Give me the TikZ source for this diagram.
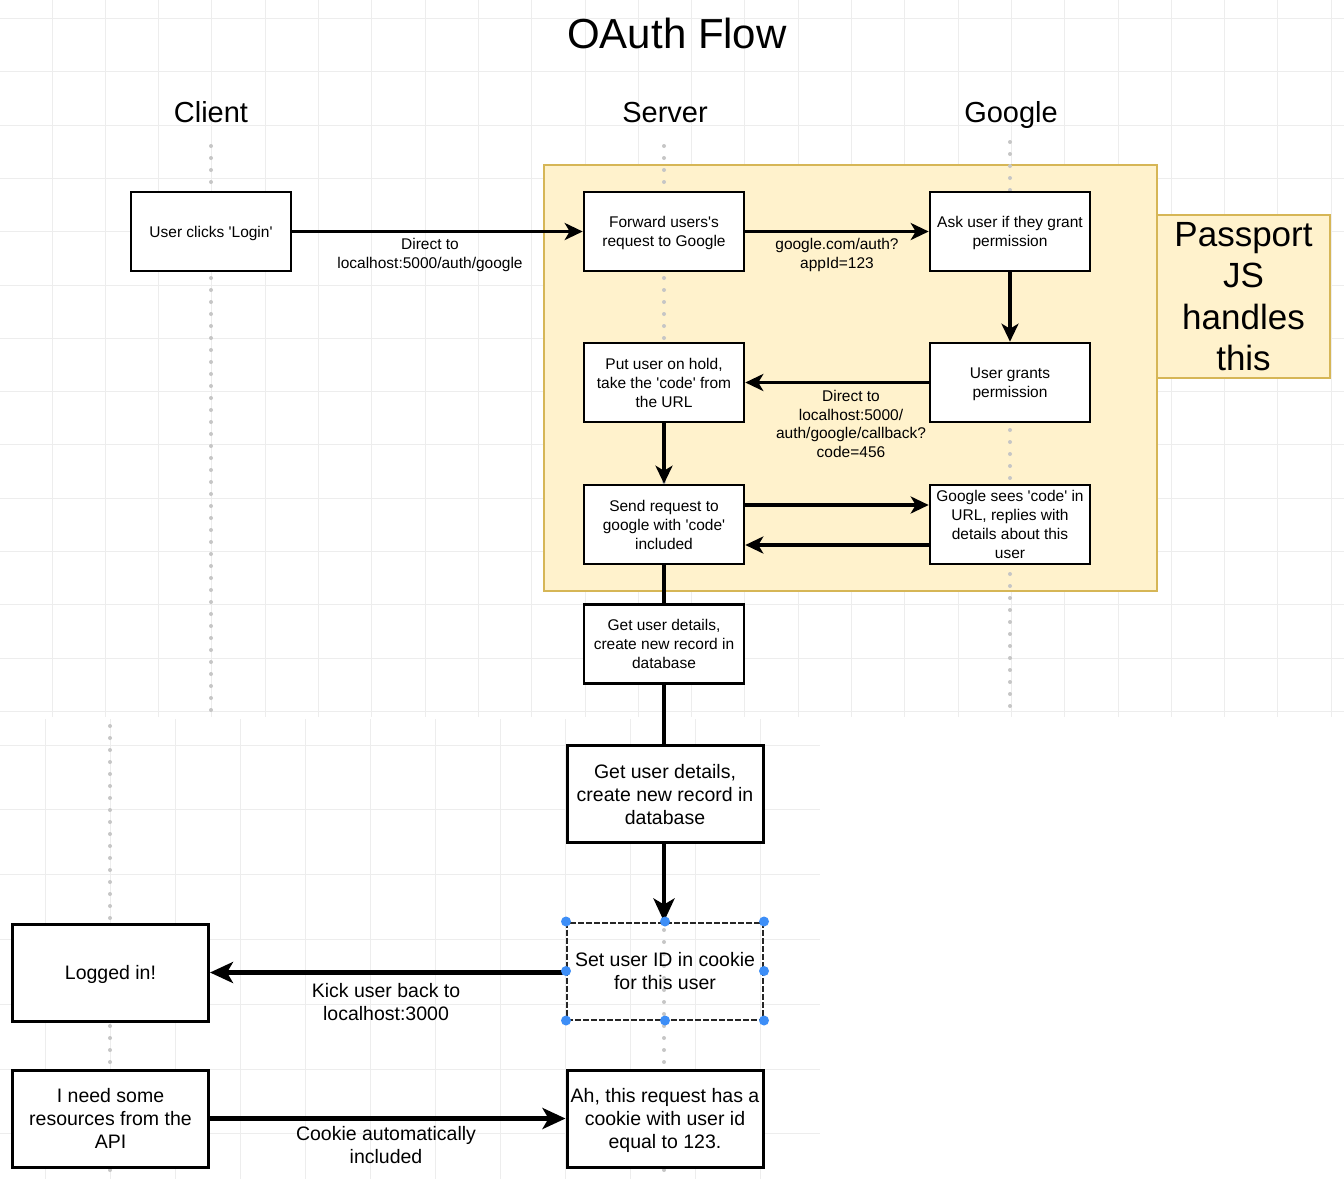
\documentclass[tikz,border=0pt]{standalone}
\usepackage{fontspec}
\setmainfont{Liberation Sans}
\usetikzlibrary{arrows.meta}
\definecolor{ylfill}{HTML}{FFF2CC}
\definecolor{ylline}{HTML}{D6B656}
\definecolor{selblue}{HTML}{3D8EF7}
\definecolor{gridc}{HTML}{EDEDED}
\definecolor{lifec}{HTML}{C6C6C6}
\newcommand{\myq}{\textquotesingle}
\begin{document}
\begin{tikzpicture}[x=1pt,y=-1pt,
  box/.style={draw, line width=2.6pt, fill=white, minimum width=160pt, minimum height=79pt,
    align=center, inner sep=1pt, text depth=-7pt, font=\fontsize{15.5}{19}\selectfont},
  bigbox/.style={draw, line width=3pt, fill=white, minimum width=196pt, minimum height=97pt,
    align=center, inner sep=1pt, text depth=-7pt, font=\fontsize{19.5}{23}\selectfont},
  lbl/.style={align=center, inner sep=0pt, font=\fontsize{15.5}{18.7}\selectfont},
  biglbl/.style={align=center, inner sep=0pt, font=\fontsize{19.5}{23}\selectfont},
  head/.style={text depth=0pt, font=\fontsize{29}{34}\selectfont},
  arr/.style={line width=3.5pt, -{Stealth[length=18pt, width=17pt, inset=5pt]}},
  bigarr/.style={line width=4.5pt, -{Stealth[length=23pt, width=21pt, inset=6pt]}},
  ln/.style={line width=3.5pt},
  lifeline/.style={draw=lifec, line width=4pt, line cap=round, dash pattern=on 0pt off 12pt},
  yl/.style={draw=ylline, fill=ylfill, line width=2pt, inner sep=0pt},
  gridl/.style={draw=gridc, line width=1pt}
]
\useasboundingbox (0,0) rectangle (1344,1179);
\fill[white] (0,0) rectangle (1344,1179);

% background grids
\foreach \i in {0,...,25} \draw[gridl] ({-1.3+53.3*\i},0) -- ({-1.3+53.3*\i},717);
\foreach \j in {0,...,13} \draw[gridl] (0,{18.5+53.3*\j}) -- (1344,{18.5+53.3*\j});
\foreach \i in {0,...,11} \draw[gridl] ({45+65*\i},719) -- ({45+65*\i},1179);
\foreach \j in {0,...,6} \draw[gridl] (0,{745+64.8*\j}) -- (820,{745+64.8*\j});

% titles
\node[font=\fontsize{42}{48}\selectfont] (title) at (677,33) {OAuth Flow};
\node[head] (hclient) at (211,112) {Client};
\node[head] (hserver) at (665,112) {Server};
\node[head] (hgoogle) at (1011,112) {Google};

% Passport region
\node[yl, minimum width=613pt, minimum height=426pt] (area) at (850.5,378) {};
\node[yl, minimum width=173pt, minimum height=163pt, align=center, text depth=-4pt,
  font=\fontsize{35}{41.5}\selectfont] (passport) at (1243.5,296.5) {Passport\\JS\\handles\\this};

% lifelines
\draw[lifeline] (211,146) -- (211,716);
\draw[lifeline] (664,146) -- (664,716);
\draw[lifeline] (1010,142) -- (1010,716);
\draw[lifeline] (110,726) -- (110,1179);
\draw[lifeline] (664,726) -- (664,1179);

% top boxes
\node[box] (login) at (211,231.5) {User clicks \myq Login\myq};
\node[box] (fwd) at (664,231.5) {Forward users\myq s\\request to Google};
\node[box] (ask) at (1010,231.5) {Ask user if they grant\\permission};
\node[box] (grant) at (1010,382.5) {User grants\\permission};
\node[box] (hold) at (664,382.5) {Put user on hold,\\take the \myq code\myq{} from\\the URL};
\node[box] (send) at (664,524.5) {Send request to\\google with \myq code\myq\\included};
\node[box] (gsees) at (1010,524.5) {Google sees \myq code\myq{} in\\URL, replies with\\details about this\\user};
\node[box] (gud) at (664,644) {Get user details,\\create new record in\\database};

% bottom boxes
\node[bigbox] (gudbig) at (665,794) {Get user details,\\create new record in\\database};
\node[bigbox, fill=none, draw=black!85, line width=2pt, dash pattern=on 6pt off 2pt] (setc) at (665,971) {Set user ID in cookie\\for this user};
\node[bigbox] (logged) at (110.5,972.5) {Logged in!};
\node[bigbox] (need) at (110.5,1118.5) {I need some\\resources from the\\API};
\node[bigbox] (ah) at (665,1118.5) {Ah, this request has a\\cookie with user id\\equal to 123.};

% connectors
\draw[arr] (login) -- (fwd);
\draw[arr] (fwd) -- (ask);
\draw[arr] (ask) -- (grant);
\draw[arr] (grant) -- (hold);
\draw[arr] (hold) -- (send);
\draw[arr] ([yshift=19.5pt]send.east) -- ([yshift=19.5pt]gsees.west);
\draw[arr] ([yshift=-20.5pt]gsees.west) -- ([yshift=-20.5pt]send.east);
\draw[ln] (send.south) -- (gud.north);
\draw[ln] (gud.south) -- (gud.south |- gudbig.north);
\draw[bigarr] (gudbig.south -| gud.south) -- (gud.south |- setc.north);
\draw[bigarr] (setc.west |- logged.east) -- (logged.east);
\draw[bigarr] (need) -- (ah);

% selection handles
\foreach \a in {north west,north,north east,west,east,south west,south,south east}
  \fill[selblue] (setc.\a) circle (5pt);

% labels
\node[lbl] (l1) at (430,255) {Direct to\\localhost:5000/auth/google};
\node[lbl] (l2) at (837,255) {google.com/auth?\\appId=123};
\node[lbl] (l3) at (851,424) {Direct to\\localhost:5000/\\auth/google/callback?\\code=456};
\node[biglbl] (l4) at (386,1002) {Kick user back to\\localhost:3000};
\node[biglbl] (l5) at (386,1145) {Cookie automatically\\included};
\end{tikzpicture}
\end{document}
